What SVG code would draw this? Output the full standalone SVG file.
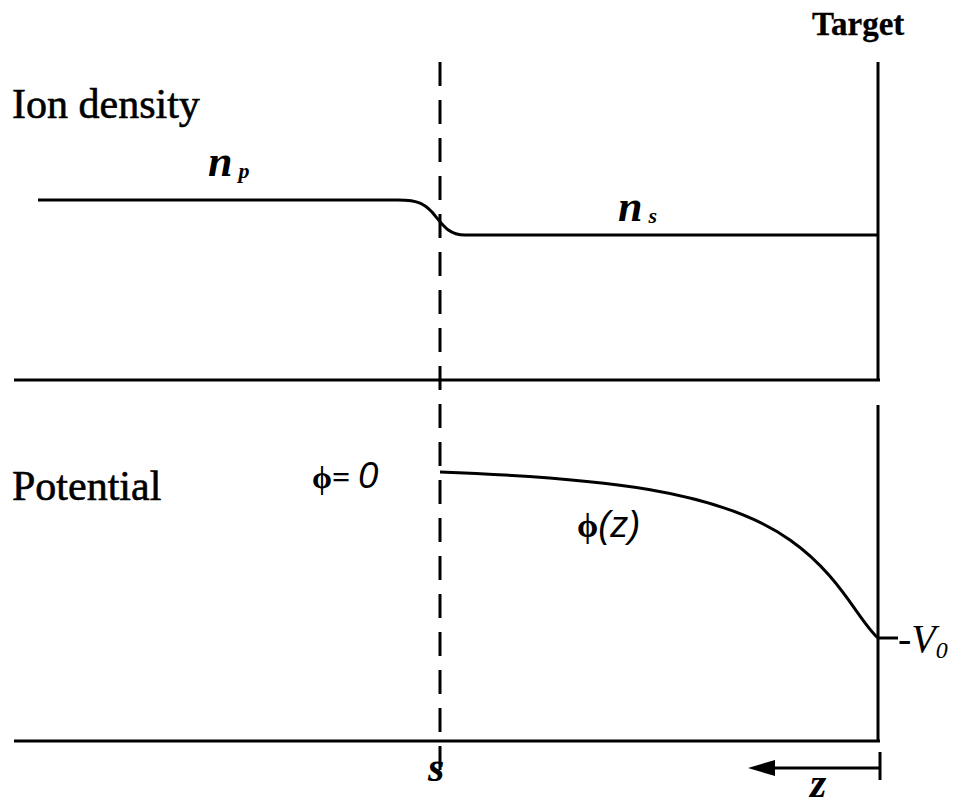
<svg xmlns="http://www.w3.org/2000/svg" width="954" height="805" viewBox="0 0 954 805">
<defs>
<style>
.ln{stroke:#000;stroke-width:3;fill:none}
.dash{stroke:#000;stroke-width:3;fill:none;stroke-dasharray:24 14}
.lbl{font-family:"Liberation Serif",serif;font-size:42px;fill:#000;stroke:#000;stroke-width:0.6}
.math{font-family:"Liberation Serif",serif;font-style:italic;font-weight:bold;fill:#000}
.sym{font-family:"Liberation Sans",sans-serif;font-style:italic;fill:#000}
</style>
</defs>
<rect width="954" height="805" fill="#fff"/>
<g id="axes">
<path class="ln" d="M14,380 H880"/>
<path class="ln" d="M878,62 V380"/>
<path class="ln" d="M14,741 H880"/>
<path class="ln" d="M878,405 V741"/>
</g>
<g id="sheath-edge">
<path class="dash" d="M440,62 V782"/>
</g>
<g id="ion-density">
<path class="ln" d="M38,200 H398 C420,200 425,205 432,212 C442,224 448,235 465,235 H878"/>
</g>
<g id="potential">
<path class="ln" d="M440,472 C600,478 720,490 790,540 C840,575 858,620 878,638"/>
<path class="ln" d="M878,638 H898"/>
</g>
<g id="z-arrow">
<path class="ln" d="M880,752 V780"/>
<path d="M880,768 H770" stroke="#000" stroke-width="3"/>
<path d="M748,768 L775,760 L775,776 Z" fill="#000"/>
</g>
<g id="labels">
<text class="lbl" x="12" y="118">Ion density</text>
<text class="lbl" x="12" y="500">Potential</text>
<text class="lbl" x="812" y="35" style="font-size:33px;font-weight:bold;stroke-width:0.3">Target</text>
<text class="math" x="208" y="176" font-size="44">n<tspan font-size="22" dx="6" dy="2">p</tspan></text>
<text class="math" x="618" y="221" font-size="44">n<tspan font-size="22" dx="6" dy="2">s</tspan></text>
<text x="312" y="488" font-family="Liberation Serif,serif" font-size="32" font-weight="bold">ϕ= <tspan class="sym" font-size="36" font-weight="normal">0</tspan></text>
<text x="577" y="537" font-family="Liberation Serif,serif" font-size="34" font-weight="bold">ϕ<tspan class="sym" font-size="36" font-weight="normal">(z)</tspan></text>
<text x="898" y="652" font-family="Liberation Serif,serif" font-size="40">-<tspan font-style="italic">V</tspan><tspan font-style="italic" font-size="24" dy="6">0</tspan></text>
<text class="math" x="428" y="781" font-size="42">s</text>
<text class="math" x="810" y="797" font-size="42">z</text>
</g>
</svg>
